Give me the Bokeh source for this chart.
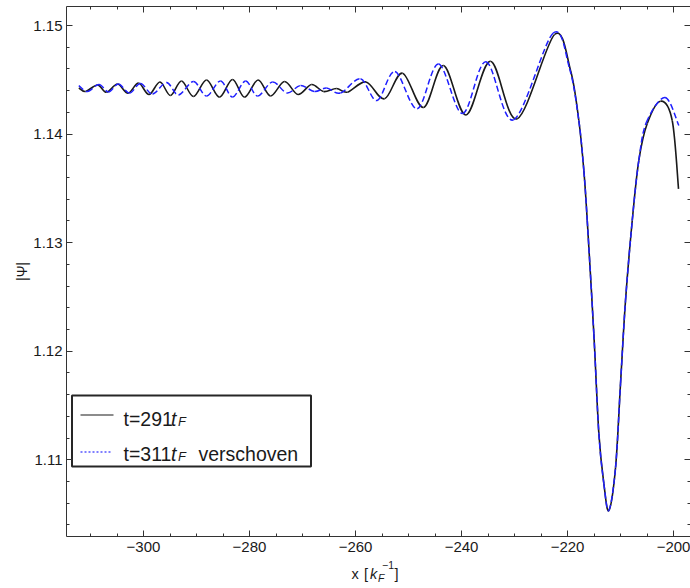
from bokeh.plotting import figure
from bokeh.layouts import column
from bokeh.models import (Range1d, FixedTicker, LinearAxis, Label, ColumnDataSource,
                          CustomLabelingPolicy, Div)
from bokeh.embed import file_html
from bokeh.resources import INLINE

# ---------------- data ----------------
black_x = [-312.21, -310.94, -308.68, -306.98, -304.91, -302.92, -300.94, -298.96, -296.89, -294.91,
           -292.83, -290.57, -288.11, -285.66, -283.21, -280.94, -278.40, -276.04, -273.40, -270.85,
           -268.30, -266.04, -263.58, -261.51, -258.02, -254.53, -251.13, -247.17, -243.40, -239.15,
           -234.53, -229.49, -222.45, -219.43, -217.87, -216.92, -216.28, -215.04, -214.09, -213.15,
           -212.21, -210.94, -210.00, -209.06, -207.79, -206.55, -204.96, -202.45, -200.25, -199.06]
black_y = [1.14424, 1.14392, 1.14452, 1.14385, 1.14461, 1.14376, 1.14470, 1.14364, 1.14480, 1.14355,
           1.14489, 1.14346, 1.14498, 1.14340, 1.14503, 1.14340, 1.14498, 1.14351, 1.14484, 1.14364,
           1.14457, 1.14392, 1.14420, 1.14386, 1.14480, 1.14325, 1.14561, 1.14245, 1.14632, 1.14176,
           1.14671, 1.14141, 1.14917, 1.14586, 1.14125, 1.13664, 1.13204, 1.12163, 1.11242, 1.10782,
           1.10533, 1.10929, 1.11703, 1.12467, 1.13204, 1.13757, 1.14097, 1.14303, 1.14125, 1.13496]

blue_x = [-312.21, -310.57, -308.40, -306.60, -304.72, -302.64, -300.57, -298.30, -295.66, -293.40,
          -290.57, -288.11, -285.47, -283.21, -280.75, -278.49, -275.66, -272.92, -270.38, -267.74,
          -265.47, -262.83, -259.06, -255.94, -252.55, -248.36, -244.34, -239.81, -235.38, -230.19,
          -222.74, -219.62, -217.87, -216.92, -216.28, -215.04, -214.09, -213.15, -212.21, -210.94,
          -210.00, -209.06, -207.79, -206.55, -205.10, -201.60, -199.00]
blue_y = [1.14447, 1.14392, 1.14457, 1.14388, 1.14461, 1.14378, 1.14466, 1.14369, 1.14475, 1.14360,
          1.14484, 1.14351, 1.14489, 1.14341, 1.14489, 1.14351, 1.14480, 1.14378, 1.14447, 1.14392,
          1.14424, 1.14378, 1.14509, 1.14309, 1.14576, 1.14233, 1.14645, 1.14189, 1.14667, 1.14131,
          1.14929, 1.14604, 1.14125, 1.13664, 1.13204, 1.12163, 1.11242, 1.10782, 1.10533, 1.10929,
          1.11703, 1.12467, 1.13204, 1.13757, 1.14110, 1.14337, 1.14079]

x_ticks = [-300, -280, -260, -240, -220, -200]
x_tick_labels = ["\u2212300", "\u2212280", "\u2212260", "\u2212240", "\u2212220", "\u2212200"]
y_ticks = [1.11, 1.12, 1.13, 1.14, 1.15]
y_tick_labels = ["1.11", "1.12", "1.13", "1.14", "1.15"]
x_minor = [-310 + 5 * i for i in range(23)]
y_minor = [round(1.104 + 0.002 * i, 3) for i in range(25)]

series1_label = ("t=291", "t", "F")
series2_label = ("t=311", "t", "F", "verschoven")
y_title = "|\u03a8|"

# ---------------- layout ----------------
W, H_TOTAL = 690, 588
PH = 560                    # height of the plot canvas; the x title sits below it
L, R, T, B = 66, 0, 6, 24
X0, X1 = -314.53, -196.80
Y0, Y1 = 1.10294, 1.15175


def px2x(px):
    return X0 + (px - L) / (W - L - R) * (X1 - X0)


def py2y(py):
    return Y1 - (py - T) / (PH - T - B) * (Y1 - Y0)


def smooth_source(xs, ys):
    """Catmull-Rom control points so the library draws smooth Bezier pieces
    through the read-off points (no extra data points are created)."""
    n = len(xs)
    d = dict(x0=[], y0=[], x1=[], y1=[], cx0=[], cy0=[], cx1=[], cy1=[])
    for i in range(n - 1):
        xa, ya = xs[max(i - 1, 0)], ys[max(i - 1, 0)]
        xb, yb = xs[i], ys[i]
        xc, yc = xs[i + 1], ys[i + 1]
        xd, yd = xs[min(i + 2, n - 1)], ys[min(i + 2, n - 1)]
        d["x0"].append(xb); d["y0"].append(yb)
        d["x1"].append(xc); d["y1"].append(yc)
        d["cx0"].append(xb + (xc - xa) / 6.0); d["cy0"].append(yb + (yc - ya) / 6.0)
        d["cx1"].append(xc - (xd - xb) / 6.0); d["cy1"].append(yc - (yd - yb) / 6.0)
    return ColumnDataSource(d)


FONT = "Liberation Sans"
AX = "#333333"
TXT = "#1a1a1a"

p = figure(width=W, height=PH, x_range=Range1d(X0, X1), y_range=Range1d(Y0, Y1),
           output_backend="svg", toolbar_location=None,
           min_border_left=L, min_border_right=R, min_border_top=T, min_border_bottom=B,
           background_fill_color="white", border_fill_color="white",
           outline_line_color=None)
p.xgrid.visible = False
p.ygrid.visible = False

top_axis = LinearAxis()
right_axis = LinearAxis()
p.add_layout(top_axis, "above")
p.add_layout(right_axis, "right")

for ax in [p.below[0], top_axis]:
    ax.ticker = FixedTicker(ticks=x_ticks, minor_ticks=x_minor)
for ax in [p.left[0], right_axis]:
    ax.ticker = FixedTicker(ticks=y_ticks, minor_ticks=y_minor)

for ax in [p.below[0], top_axis, p.left[0], right_axis]:
    ax.axis_line_color = AX
    ax.axis_line_width = 1
    ax.major_tick_line_color = AX
    ax.minor_tick_line_color = AX
    ax.major_tick_in = 6
    ax.major_tick_out = 0
    ax.minor_tick_in = 3
    ax.minor_tick_out = 0
    ax.major_label_text_font = FONT
    ax.major_label_text_color = TXT
    ax.major_label_text_font_size = "15px"

hide_all = CustomLabelingPolicy(code="for (const i of indices) indices.unset(i); return indices")
for ax in [top_axis, right_axis]:
    ax.major_label_text_font_size = "0px"
    ax.major_label_policy = hide_all
    ax.major_label_standoff = 0
right_axis.axis_line_color = None

p.below[0].major_label_overrides = {t: s for t, s in zip(x_ticks, x_tick_labels)}
p.left[0].major_label_overrides = {t: s for t, s in zip(y_ticks, y_tick_labels)}
p.below[0].major_label_standoff = 5
p.left[0].major_label_standoff = 4

p.left[0].axis_label = y_title
p.left[0].axis_label_text_font = FONT
p.left[0].axis_label_text_font_style = "normal"
p.left[0].axis_label_text_font_size = "14px"
p.left[0].axis_label_text_color = TXT
p.left[0].axis_label_standoff = 0

# ---------------- curves ----------------
p.bezier(x0="x0", y0="y0", x1="x1", y1="y1", cx0="cx0", cy0="cy0", cx1="cx1", cy1="cy1",
         source=smooth_source(black_x, black_y), line_color="#1a1a1a", line_width=1.6)
p.bezier(x0="x0", y0="y0", x1="x1", y1="y1", cx0="cx0", cy0="cy0", cx1="cx1", cy1="cy1",
         source=smooth_source(blue_x, blue_y), line_color="#1f1fff", line_width=1.5,
         line_dash="6 3")

# ---------------- legend (drawn by hand for italic subscripts) ----------------
p.quad(left=px2x(71.5), right=px2x(310.5), top=py2y(395), bottom=py2y(466),
       fill_color="white", line_color="#262626", line_width=2)
p.segment(x0=[px2x(80)], x1=[px2x(113)], y0=[py2y(414.5)], y1=[py2y(414.5)],
          line_color="#1a1a1a", line_width=1.2)
p.segment(x0=[px2x(80)], x1=[px2x(111)], y0=[py2y(451.5)], y1=[py2y(451.5)],
          line_color="#0000ff", line_width=1.1, line_dash="2 2")


def lab(px, py, text, size, style="normal"):
    # screen units are measured from the frame's lower-left corner
    p.add_layout(Label(x=px - L, y=(PH - B) - py, x_units="screen", y_units="screen",
                       text=text, text_font=FONT,
                       text_font_size=size, text_font_style=style,
                       text_color=TXT, text_align="left",
                       text_baseline="alphabetic"))


lab(123.0, 418.7, series1_label[0], "19.5px")
lab(170.5, 418.7, series1_label[1], "19.5px", "italic")
lab(177.5, 421.2, series1_label[2], "13px", "italic")
lab(123.0, 453.9, series2_label[0], "19.5px")
lab(170.5, 453.9, series2_label[1], "19.5px", "italic")
lab(177.5, 456.4, series2_label[2], "13px", "italic")
lab(198.0, 453.9, series2_label[3], "19.5px")

# ---------------- x-axis title below the plot: x [k_F^-1] ----------------
def span(left, top, text, size, italic=False):
    st = "italic" if italic else "normal"
    return (f'<span style="position:absolute;left:{left}px;top:{top}px;'
            f'font-size:{size}px;line-height:1;font-style:{st};white-space:nowrap">{text}</span>')


title_html = (
    f'<div style="position:relative;width:{W}px;height:{H_TOTAL - PH}px;'
    f'font-family:\'{FONT}\';color:{TXT}">'
    + span(351.5, 6.5, "x", 14.5)
    + span(364.0, 6.5, "[", 14.5)
    + span(370.0, 6.5, "k", 14.5, True)
    + span(378.0, 12.5, "F", 10.5, True)
    + span(382.0, -0.5, "\u22121", 10.5)
    + span(394.5, 6.5, "]", 14.5)
    + '</div>'
)
xtitle = Div(text=title_html, width=W, height=H_TOTAL - PH, margin=(0, 0, 0, 0))

layout = column(p, xtitle, spacing=0)
open("out.html", "w").write(file_html(layout, INLINE))
